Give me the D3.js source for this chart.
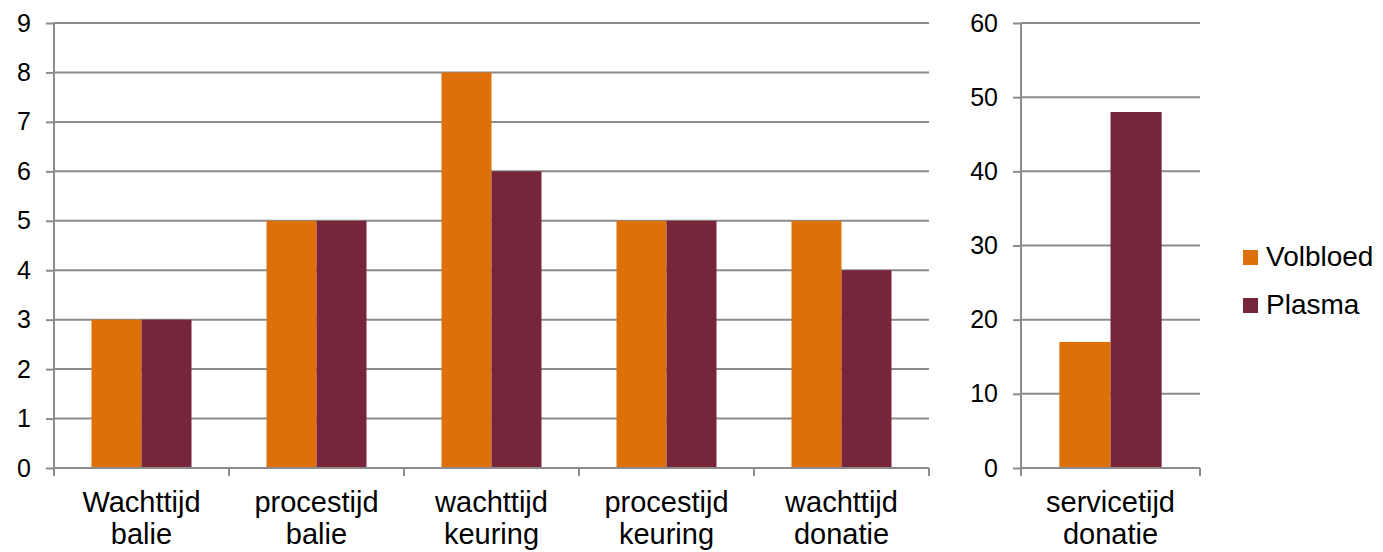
<!DOCTYPE html>
<html>
<head>
<meta charset="utf-8">
<script src="https://cdn.jsdelivr.net/npm/d3@7"></script>
<style>
  html, body { margin: 0; padding: 0; background: #fff; }
  svg { display: block; font-family: "Liberation Sans", Arial, sans-serif; }
</style>
</head>
<body>
<svg id="chart" width="1383" height="552"></svg>
<script>
// Wait and process times (minutes)
const series = ["Volbloed", "Plasma"];
const colors = ["#DE7009", "#76253B"];

const leftCategories = ["Wachttijd balie", "procestijd balie", "wachttijd keuring", "procestijd keuring", "wachttijd donatie"];
const leftVolbloed = [3, 5, 8, 5, 5];
const leftPlasma = [3, 5, 6, 5, 4];
const leftTicks = [0, 1, 2, 3, 4, 5, 6, 7, 8, 9];

const rightCategories = ["servicetijd donatie"];
const rightVolbloed = [17];
const rightPlasma = [48];
const rightTicks = [0, 10, 20, 30, 40, 50, 60];

const svg = d3.select("#chart");
const gridColor = "#8c8c8c";
const plotTop = 23, plotBottom = 468;

function panel(opts) {
  const { categories, vol, pla, ticks, max, x0, x1 } = opts;
  const g = svg.append("g");
  const y = d3.scaleLinear().domain([0, max]).range([plotBottom, plotTop]);
  const x = d3.scaleBand().domain(categories).range([x0, x1]).padding(0);
  const xs = d3.scaleBand().domain(series).range([0, x.bandwidth()]).paddingInner(0).paddingOuter(0.75);

  // horizontal gridlines
  g.append("g").selectAll("line").data(ticks.filter(t => t > 0)).join("line")
    .attr("x1", x0).attr("x2", x1)
    .attr("y1", d => y(d)).attr("y2", d => y(d))
    .attr("stroke", gridColor).attr("stroke-width", 2);

  // bars
  const rows = categories.map((c, i) => ({ c, vals: [vol[i], pla[i]] }));
  const grp = g.append("g").selectAll("g").data(rows).join("g")
    .attr("transform", d => `translate(${x(d.c)},0)`);
  grp.selectAll("rect").data(d => d.vals.map((v, k) => ({ s: series[k], v, k })))
    .join("rect")
    .attr("x", d => xs(d.s))
    .attr("width", xs.bandwidth())
    .attr("y", d => y(d.v))
    .attr("height", d => y(0) - y(d.v))
    .attr("fill", d => colors[d.k]);

  // value axis
  const ay = g.append("g").attr("transform", `translate(${x0},0)`)
    .call(d3.axisLeft(y).tickValues(ticks).tickSize(8).tickPadding(15));
  ay.select(".domain").attr("stroke", gridColor).attr("stroke-width", 2)
    .attr("d", `M0,${plotTop}V${plotBottom}`);
  ay.selectAll(".tick line").attr("stroke", gridColor).attr("stroke-width", 2);
  ay.selectAll(".tick text").attr("font-size", 25).attr("fill", "#000")
    .attr("font-family", "Liberation Sans, Arial, sans-serif");

  // category axis
  const ax = g.append("g");
  ax.append("line").attr("x1", x0).attr("x2", x1).attr("y1", plotBottom).attr("y2", plotBottom)
    .attr("stroke", gridColor).attr("stroke-width", 2);
  const bounds = categories.map(c => x(c)).concat([x1]);
  ax.selectAll("line.tk").data(bounds).join("line").attr("class", "tk")
    .attr("x1", d => d).attr("x2", d => d)
    .attr("y1", plotBottom).attr("y2", plotBottom + 8)
    .attr("stroke", gridColor).attr("stroke-width", 2);
  const lbl = ax.selectAll("text").data(categories).join("text")
    .attr("text-anchor", "middle").attr("font-size", 29).attr("fill", "#000")
    .attr("transform", d => `translate(${x(d) + x.bandwidth() / 2},0)`);
  lbl.selectAll("tspan").data(d => d.split(" ")).join("tspan")
    .attr("x", 0).attr("y", (d, i) => plotBottom + 44 + i * 32).text(d => d);
}

panel({ categories: leftCategories, vol: leftVolbloed, pla: leftPlasma, ticks: leftTicks, max: 9, x0: 54, x1: 929 });
panel({ categories: rightCategories, vol: rightVolbloed, pla: rightPlasma, ticks: rightTicks, max: 60, x0: 1021, x1: 1200 });

// legend
const leg = svg.append("g").attr("transform", "translate(1243,250)");
const li = leg.selectAll("g").data(series).join("g")
  .attr("transform", (d, i) => `translate(0,${i * 48})`);
li.append("rect").attr("width", 15).attr("height", 15).attr("fill", (d, i) => colors[i]);
li.append("text").attr("x", 23).attr("y", 16).attr("font-size", 28).attr("fill", "#000").text(d => d);
</script>
</body>
</html>
